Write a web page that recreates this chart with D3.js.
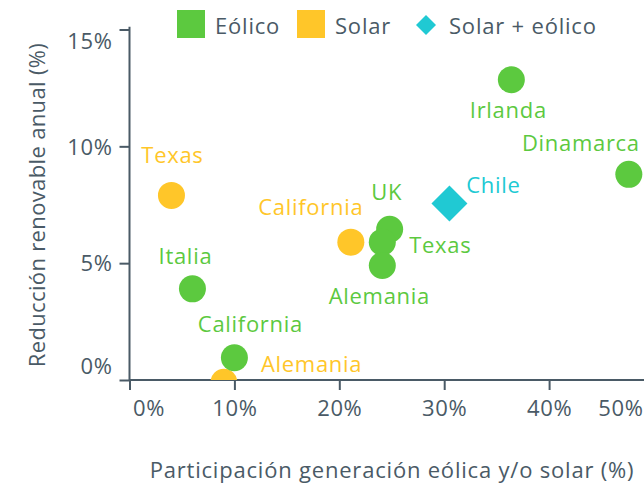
<!DOCTYPE html>
<html>
<head>
<meta charset="utf-8">
<script src="https://cdn.jsdelivr.net/npm/d3@7"></script>
<style>
  body { margin: 0; background: #fff; }
  svg { display: block; font-family: "Open Sans", sans-serif; }
</style>
</head>
<body>
<script>
'use strict'

// data
let names   = ["Texas", "Alemania", "California", "Italia", "California", "UK", "Texas", "Alemania", "Irlanda", "Dinamarca", "Chile"]
let sources = ["Solar", "Solar", "Solar", "Eólico", "Eólico", "Eólico", "Eólico", "Eólico", "Eólico", "Eólico", "Solar + eólico"]
let share   = [4.0, 9.0, 21.1, 6.0, 10.0, 24.8, 24.1, 24.1, 36.4, 47.6, 30.5]   // x, %
let cut     = [7.9, -0.1, 5.9, 3.9, 0.95, 6.45, 5.9, 4.9, 12.85, 8.8, 7.55]     // y, %
let xTicks  = [0, 10, 20, 30, 40, 50]
let yTicks  = [0, 5, 10, 15]
let legendNames = ["Eólico", "Solar", "Solar + eólico"]

// where each label sits relative to its point (px)
let labelOffset = [[1, -40], [37, -18, "start"], [-40, -35], [-7, -33], [16, -34], [-3, -37],
                   [58, 3], [-3, 31], [-3, 31], [-48, -31], [44, -18]]

let width = 644, height = 484
let ink = "#4a5a66"
let colors = { "Eólico": "#5cc93f", "Solar": "#ffc629", "Solar + eólico": "#20c9d3" }

let x = d3.scaleLinear().domain([0, 50]).range([129.5, 654])
let y = d3.scaleLinear().domain([0, 15]).range([380, 29.5])

let svg = d3.select("body").append("svg")
  .attr("width", width)
  .attr("height", height)

svg.append("clipPath").attr("id", "plot")
  .append("rect")
  .attr("x", x(0)).attr("y", 0)
  .attr("width", width - x(0)).attr("height", y(0))

// axes
let yAxis = svg.append("g")
  .attr("transform", "translate(" + x(0) + ",0)")
  .call(d3.axisLeft(y).tickValues(yTicks).tickSize(10).tickPadding(7).tickFormat(d => d + "%"))
yAxis.select(".domain").attr("d", "M0," + y(15.12) + "V" + y(0))

let xAxis = svg.append("g")
  .attr("transform", "translate(0," + y(0) + ")")
  .call(d3.axisBottom(x).tickValues(xTicks).tickSize(10).tickFormat(d => d + "%"))
xAxis.select(".domain").attr("d", "M" + x(0) + ",0H" + width)

svg.selectAll(".tick line, .domain").attr("stroke", ink).attr("stroke-width", 2)
svg.selectAll(".tick text").attr("fill", ink)
  .style("font-size", "22px").style("font-family", "Open Sans").style("letter-spacing", "0.6px")

// flush first / last labels
yAxis.selectAll(".tick text").attr("dy", "0.35em")
yAxis.selectAll(".tick text").filter(d => d == 0).attr("dy", "-0.3em")
yAxis.selectAll(".tick text").filter(d => d == 15).attr("dy", "0.85em")
xAxis.selectAll(".tick text").attr("y", 28).attr("dy", "0.35em")
xAxis.selectAll(".tick text").filter(d => d == 0).attr("text-anchor", "start").attr("dx", 3)
xAxis.selectAll(".tick text").filter(d => d == 50).attr("text-anchor", "end").attr("dx", width - 1 - x(50))

// axis titles
svg.append("text")
  .attr("text-anchor", "middle")
  .attr("transform", "translate(37," + 205 + ")rotate(-90)")
  .attr("dy", "0.35em")
  .attr("fill", ink)
  .style("font-size", "22px")
  .style("letter-spacing", "0.35px")
  .text("Reducción renovable anual (%)")

svg.append("text")
  .attr("text-anchor", "middle")
  .attr("x", 392).attr("y", 470)
  .attr("dy", "0.35em")
  .attr("fill", ink)
  .style("font-size", "22px")
  .style("letter-spacing", "0.8px")
  .text("Participación generación eólica y/o solar (%)")

// points
let points = names.map((n, i) => ({ name: n, source: sources[i], x: share[i], y: cut[i], off: labelOffset[i] }))

let marks = svg.append("g").attr("clip-path", "url(#plot)")
marks.selectAll("circle")
  .data(points.filter(d => d.source != "Solar + eólico"))
  .enter()
  .append("circle")
  .attr("cx", d => x(d.x))
  .attr("cy", d => y(d.y))
  .attr("r", 13.5)
  .attr("fill", d => colors[d.source])

marks.selectAll("path.diamond")
  .data(points.filter(d => d.source == "Solar + eólico"))
  .enter()
  .append("path")
  .attr("class", "diamond")
  .attr("d", d3.symbol().type(d3.symbolSquare).size(648))
  .attr("transform", d => "translate(" + x(d.x) + "," + y(d.y) + ")rotate(45)")
  .attr("fill", d => colors[d.source])

svg.selectAll("text.label")
  .data(points)
  .enter()
  .append("text")
  .attr("class", "label")
  .attr("x", d => x(d.x) + d.off[0])
  .attr("y", d => y(d.y) + d.off[1])
  .attr("dy", "0.35em")
  .attr("text-anchor", d => d.off[2] || "middle")
  .attr("fill", d => colors[d.source])
  .style("font-size", "22px")
  .style("letter-spacing", "0.7px")
  .text(d => d.name)

// legend
let legendX = [177, 297, 416]
let legend = svg.selectAll("g.legend")
  .data(legendNames)
  .enter()
  .append("g")
  .attr("class", "legend")
  .attr("transform", (d, i) => "translate(" + legendX[i] + ",10)")

legend.filter(d => d != "Solar + eólico").append("rect")
  .attr("width", 28).attr("height", 28)
  .attr("fill", d => colors[d])

legend.filter(d => d == "Solar + eólico").append("path")
  .attr("d", d3.symbol().type(d3.symbolSquare).size(200))
  .attr("transform", "translate(10,15)rotate(45)")
  .attr("fill", d => colors[d])

legend.append("text")
  .attr("x", (d, i) => i == 2 ? 33 : 38)
  .attr("y", 16)
  .attr("dy", "0.35em")
  .attr("fill", ink)
  .style("font-size", "22px")
  .style("letter-spacing", "0.8px")
  .text(d => d)
</script>
</body>
</html>
